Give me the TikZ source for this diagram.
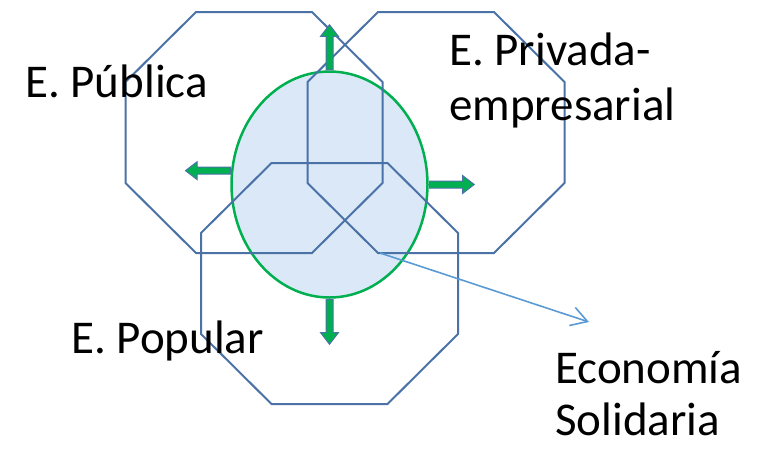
\documentclass[tikz,border=0pt]{standalone}
\usepackage{fontspec}
\setmainfont{Carlito}
\usepackage{tikz}
\usetikzlibrary{arrows.meta,shapes.geometric,shapes.arrows,positioning}
\definecolor{octblue}{RGB}{74,114,166}
\definecolor{solgreen}{RGB}{0,176,80}
\definecolor{solfill}{RGB}{219,232,247}
\definecolor{pointblue}{RGB}{91,155,213}
\tikzset{
  octline/.style={octblue,line width=2pt},
  fatarrow/.style={single arrow,draw=octblue,fill=solgreen,line width=1pt,inner sep=3pt,
    minimum height=45pt,single arrow head extend=5.5pt,single arrow tip angle=75,anchor=tail},
  lbl/.style={font=\fontsize{47}{54}\selectfont,inner sep=0pt,align=left},
  pointer/.style={pointblue,line width=1.6pt,-{Straight Barb[length=16pt,width=19pt]}}
}
\begin{document}
\begin{tikzpicture}[x=1pt,y=-1pt]
  \useasboundingbox (0,0) rectangle (757,448);
  \node[ellipse,draw=solgreen,fill=solfill,line width=2.5pt,minimum width=196pt,
    minimum height=226pt,inner sep=0pt] (eco) at (329.5,184.5) {};
  \foreach \cx/\cy in {254/132.5,436/132.5,329.5/283.5}
    \draw[octline,shift={(\cx,\cy)}] (-58,-120.5) -- (58,-120.5) -- (128.5,-50.5) -- (128.5,50.5)
      -- (58,120.5) -- (-58,120.5) -- (-128.5,50.5) -- (-128.5,-50.5) -- cycle;
  \node[fatarrow,rotate=90] (up) at (eco.north) {};
  \node[fatarrow,rotate=-90] (down) at (eco.south) {};
  \node[fatarrow,rotate=180] (left) at (eco.172) {};
  \node[fatarrow] (right) at (eco.east) {};
  \node[lbl,anchor=base west] (pub) at (25,97) {E. Pública};
  \node[lbl,anchor=base west] (priv) at (449,120) {E. Privada-\\[1pt]empresarial};
  \node[lbl,anchor=base west] (pop) at (71,353) {E. Popular};
  \node[lbl,anchor=base west] (sol) at (555,435) {Economía\\[-2pt]Solidaria};
  \coordinate (src) at (380,253);
  \coordinate (tip) at (589,322);
  \draw[pointer] (src) -- (tip);
\end{tikzpicture}
\end{document}
